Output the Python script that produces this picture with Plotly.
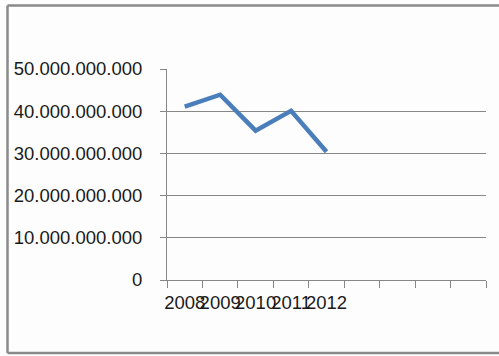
import plotly.graph_objects as go

# Yearly totals
years = ["2008", "2009", "2010", "2011", "2012"]
values = [41.1e9, 43.9e9, 35.4e9, 40.1e9, 30.4e9]
# Unused slots on the category axis (blank labels)
blank_slots = [" ", "  ", "   ", "    "]
y_ticks = [0, 10e9, 20e9, 30e9, 40e9, 50e9]

W, H = 499, 356
ML, MR, MT, MB = 167, 13, 69, 76
PW, PH = W - ML - MR, H - MT - MB

def px_to_paper_x(px):
    return (px - ML) / PW

def px_to_paper_y(py):
    return (H - MB - py) / PH

GRID = "#878787"
FRAME = "#8a8a8a"
FONT = "Liberation Sans"

fig = go.Figure()
fig.add_trace(go.Scatter(
    x=years, y=values, mode="lines",
    line=dict(color="#4a7ebb", width=4.5),
    hoverinfo="skip", showlegend=False,
))

# Chart frame: top, left and bottom edges (open on the right)
left, right, top, bottom = 7.5, 540, 5.5, 353
frame_lines = [
    (left, top, right, top),
    (left, top, left, bottom),
    (left, bottom, right, bottom),
]
shapes = [
    dict(type="line", xref="paper", yref="paper",
         x0=px_to_paper_x(a), y0=px_to_paper_y(b),
         x1=px_to_paper_x(c), y1=px_to_paper_y(d),
         line=dict(color=FRAME, width=2.5), layer="below")
    for a, b, c, d in frame_lines
]

fig.update_layout(
    width=W, height=H,
    margin=dict(l=ML, r=MR, t=MT, b=MB),
    paper_bgcolor="#fdfdfd", plot_bgcolor="#fdfdfd",
    separators=",.",
    font=dict(family=FONT, size=18.5, color="#1a1a1a"),
    xaxis=dict(
        type="category",
        categoryorder="array", categoryarray=years + blank_slots,
        range=[-0.5, len(years) + len(blank_slots) - 0.5],
        tickson="boundaries", ticks="outside", ticklen=7, tickcolor=GRID,
        tickangle=0, showgrid=False,
        showline=True, linecolor=GRID, linewidth=1,
        tickfont=dict(family=FONT, size=18.5, color="#1a1a1a"),
        ticklabelstandoff=6,
        fixedrange=True,
    ),
    yaxis=dict(
        range=[0, 50e9], tickvals=y_ticks, tickformat=",d",
        ticks="outside", ticklen=6, tickcolor=GRID,
        showgrid=True, gridcolor=GRID, gridwidth=1,
        showline=True, linecolor=GRID, linewidth=1,
        zeroline=False, ticklabelstandoff=14,
        fixedrange=True,
    ),
    shapes=shapes,
)

fig.write_html("out.html")
